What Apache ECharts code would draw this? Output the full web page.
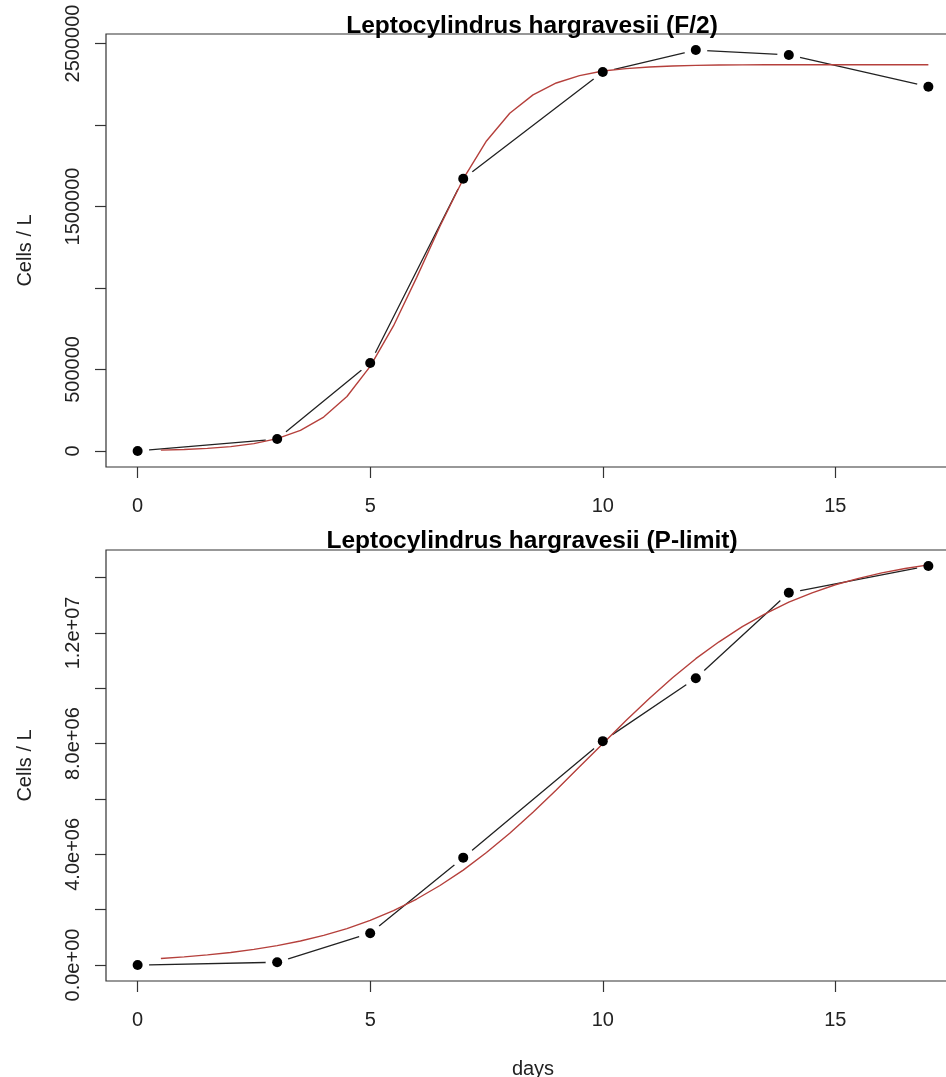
<!DOCTYPE html>
<html>
<head>
<meta charset="utf-8">
<script src="https://cdn.jsdelivr.net/npm/echarts@6/dist/echarts.min.js"></script>
<style>
html,body{margin:0;padding:0;background:#fff;}
#chart{width:946px;height:1077px;}
</style>
</head>
<body>
<div id="chart"></div>
<script>
// ---- data ----
var days = [0, 3, 5, 7, 10, 12, 14, 17];
var f2Cells = [0, 73000, 540000, 1670000, 2325000, 2460000, 2430000, 2235000];
var pCells = [0, 100000, 1150000, 3880000, 8090000, 10360000, 13450000, 14420000];

var fitDays = [0.5, 1, 1.5, 2, 2.5, 3, 3.5, 4, 4.5, 5, 5.5, 6, 6.5, 7, 7.5, 8, 8.5, 9, 9.5, 10,
               10.5, 11, 11.5, 12, 12.5, 13, 13.5, 14, 14.5, 15, 15.5, 16, 16.5, 17];
var f2Fit = [5400, 9200, 15600, 26500, 44800, 75500, 126000, 208000, 334000, 519000,
             767000, 1065000, 1379000, 1669000, 1902000, 2072000, 2185000, 2258000, 2303000, 2331000,
             2346000, 2356000, 2362000, 2366000, 2368000, 2369000, 2370000, 2370000, 2370000, 2370000,
             2370000, 2370000, 2370000, 2370000];
var pFit = [235000, 294000, 366000, 455000, 566000, 701000, 867000, 1071000, 1318000, 1614000,
            1969000, 2386000, 2874000, 3430000, 4065000, 4763000, 5523000, 6329000, 7163000, 8000000,
            8834000, 9634000, 10380000, 11070000, 11680000, 12230000, 12700000, 13110000, 13450000, 13740000,
            13970000, 14170000, 14330000, 14460000];

var xTicks = [0, 5, 10, 15];
var yTicksTop = [0, 500000, 1000000, 1500000, 2000000, 2500000];
var yLabelValsTop = [0, 500000, 1500000, 2500000];
var yLabelsTop = ['0', '500000', '1500000', '2500000'];
var yTicksBottom = [0, 2000000, 4000000, 6000000, 8000000, 10000000, 12000000, 14000000];
var yLabelValsBottom = [0, 4000000, 8000000, 12000000];
var yLabelsBottom = ['0.0e+00', '4.0e+06', '8.0e+06', '1.2e+07'];

var titles = ['Leptocylindrus hargravesii (F/2)', 'Leptocylindrus hargravesii (P-limit)'];
var yName = 'Cells / L';
var xName = 'days';

// ---- styling ----
var FONT = "'Liberation Sans', Arial, sans-serif";
var AX = '#333';
var TXT = '#222';
var RED = '#b5403c';

function pairs(xs, ys) { return xs.map(function (x, i) { return [x, ys[i]]; }); }
function lookup(vals, labels) {
  return function (v) {
    for (var i = 0; i < vals.length; i++) { if (Math.abs(vals[i] - v) < 1e-6 * Math.max(1, Math.abs(v))) return labels[i]; }
    return '';
  };
}

function xAxisFor(idx, withName) {
  var a = {
    gridIndex: idx, type: 'value', min: -0.68, max: 17.68, position: 'bottom',
    axisLine: { show: false, onZero: false }, splitLine: { show: false },
    axisTick: { show: true, inside: false, length: 11, customValues: xTicks, lineStyle: { color: AX, width: 1.2 } },
    axisLabel: { customValues: xTicks, margin: 29, fontSize: 20, color: TXT, fontFamily: FONT }
  };
  if (withName) {
    a.name = xName; a.nameLocation = 'middle'; a.nameGap = 78;
    a.nameTextStyle = { fontSize: 20, color: TXT, fontFamily: FONT };
  }
  return a;
}
function yAxisFor(idx, min, max, ticks, lvals, labels) {
  return {
    gridIndex: idx, type: 'value', min: min, max: max, position: 'left',
    name: yName, nameLocation: 'middle', nameRotate: 90, nameGap: 71,
    nameTextStyle: { fontSize: 20, color: TXT, fontFamily: FONT },
    axisLine: { show: false, onZero: false }, splitLine: { show: false },
    axisTick: { show: true, inside: false, length: 11, customValues: ticks, lineStyle: { color: AX, width: 1.2 } },
    axisLabel: { customValues: lvals, formatter: lookup(lvals, labels), rotate: 90, margin: 23,
                 fontSize: 20, color: TXT, fontFamily: FONT }
  };
}

function seriesFor(idx, obs, fit) {
  var obsData = pairs(days, obs);
  var fitData = pairs(fitDays, fit);
  return [
    { type: 'line', xAxisIndex: idx, yAxisIndex: idx, data: obsData, showSymbol: false, symbol: 'none',
      lineStyle: { color: '#222', width: 1.3 }, z: 2, silent: true, animation: false },
    { type: 'scatter', xAxisIndex: idx, yAxisIndex: idx, data: obsData, symbol: 'circle', symbolSize: 23,
      itemStyle: { color: '#fff', opacity: 1 }, z: 3, silent: true, animation: false },
    { type: 'line', xAxisIndex: idx, yAxisIndex: idx, data: fitData, showSymbol: false, symbol: 'none',
      lineStyle: { color: RED, width: 1.4 }, z: 4, silent: true, animation: false },
    { type: 'scatter', xAxisIndex: idx, yAxisIndex: idx, data: obsData, symbol: 'circle', symbolSize: 10,
      itemStyle: { color: '#000', opacity: 1 }, z: 5, silent: true, animation: false }
  ];
}

var chart = echarts.init(document.getElementById('chart'), null, { renderer: 'canvas' });
chart.setOption({
  backgroundColor: '#fff',
  animation: false,
  grid: [
    { left: 106, top: 34, width: 854, height: 433, show: true, borderColor: AX, borderWidth: 1.2,
      backgroundColor: 'transparent', containLabel: false, outerBoundsMode: 'none' },
    { left: 106, top: 550, width: 854, height: 431, show: true, borderColor: AX, borderWidth: 1.2,
      backgroundColor: 'transparent', containLabel: false, outerBoundsMode: 'none' }
  ],
  xAxis: [xAxisFor(0, false), xAxisFor(1, true)],
  yAxis: [
    yAxisFor(0, -98400, 2558400, yTicksTop, yLabelValsTop, yLabelsTop),
    yAxisFor(1, -576800, 14996800, yTicksBottom, yLabelValsBottom, yLabelsBottom)
  ],
  graphic: [
    { type: 'text', x: 532, y: 26, z: 10,
      style: { text: titles[0], fill: '#000', font: 'bold 24.5px ' + FONT, textAlign: 'center', textVerticalAlign: 'middle' } },
    { type: 'text', x: 532, y: 541, z: 10,
      style: { text: titles[1], fill: '#000', font: 'bold 24.5px ' + FONT, textAlign: 'center', textVerticalAlign: 'middle' } }
  ],
  series: seriesFor(0, f2Cells, f2Fit).concat(seriesFor(1, pCells, pFit))
});
</script>
</body>
</html>
